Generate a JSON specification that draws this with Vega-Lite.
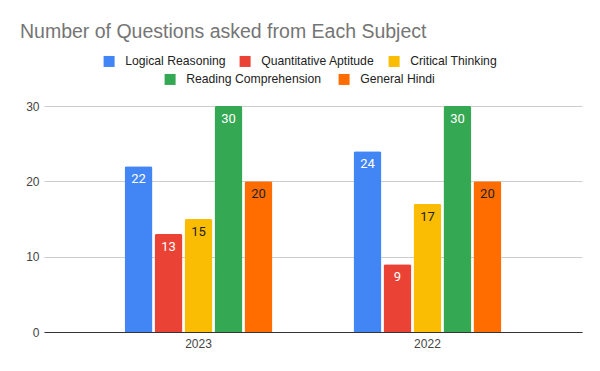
{
  "$schema": "https://vega.github.io/schema/vega-lite/v6.json",
  "autosize": {"type": "none"},
  "width": 538,
  "height": 226,
  "padding": {"left": 44, "top": 106, "right": 18, "bottom": 39},
  "background": "white",
  "title": {
    "text": "Number of Questions asked from Each Subject",
    "anchor": "start",
    "frame": "group",
    "font": "Liberation Sans",
    "fontSize": 19.5,
    "fontWeight": "normal",
    "color": "#757575",
    "dx": -24,
    "dy": -9
  },
  "data": {
    "values": [
      {"year": "2023", "subject": "Logical Reasoning", "value": 22},
      {"year": "2023", "subject": "Quantitative Aptitude", "value": 13},
      {"year": "2023", "subject": "Critical Thinking", "value": 15},
      {"year": "2023", "subject": "Reading Comprehension", "value": 30},
      {"year": "2023", "subject": "General Hindi", "value": 20},
      {"year": "2022", "subject": "Logical Reasoning", "value": 24},
      {"year": "2022", "subject": "Quantitative Aptitude", "value": 9},
      {"year": "2022", "subject": "Critical Thinking", "value": 17},
      {"year": "2022", "subject": "Reading Comprehension", "value": 30},
      {"year": "2022", "subject": "General Hindi", "value": 20}
    ]
  },
  "encoding": {
    "x": {
      "field": "year",
      "type": "nominal",
      "sort": ["2023", "2022"],
      "scale": {"paddingInner": 0.354, "paddingOuter": 0.352},
      "axis": {
        "title": null,
        "labelAngle": 0,
        "ticks": false,
        "domainColor": "#333333",
        "labelFont": "Liberation Sans",
        "labelFontSize": 12,
        "labelColor": "#444444",
        "labelPadding": 6,
        "grid": false
      }
    },
    "xOffset": {
      "field": "subject",
      "type": "nominal",
      "scale": {
        "domain": ["Logical Reasoning", "Quantitative Aptitude", "Critical Thinking", "Reading Comprehension", "General Hindi"],
        "paddingInner": 0.067,
        "paddingOuter": 0
      }
    },
    "y": {
      "field": "value",
      "type": "quantitative",
      "scale": {"domain": [0, 30]},
      "axis": {
        "title": null,
        "values": [0, 10, 20, 30],
        "ticks": false,
        "domain": false,
        "gridColor": "#cccccc",
        "labelFont": "Liberation Sans",
        "labelFontSize": 12,
        "labelColor": "#444444",
        "labelPadding": 5
      }
    }
  },
  "layer": [
    {
      "transform": [{"filter": {"field": "subject", "oneOf": ["Logical Reasoning", "Quantitative Aptitude", "Critical Thinking"]}}],
      "mark": {"type": "bar", "cornerRadiusEnd": 2},
      "encoding": {
        "color": {
          "field": "subject",
          "type": "nominal",
          "scale": {
            "domain": ["Logical Reasoning", "Quantitative Aptitude", "Critical Thinking"],
            "range": ["#4285F4", "#EA4335", "#FBBC04"]
          },
          "legend": {
            "title": null,
            "orient": "none",
            "direction": "horizontal",
            "legendX": 59,
            "legendY": -51,
            "symbolType": "square",
            "symbolSize": 121,
            "symbolStrokeWidth": 0,
            "labelFont": "Liberation Sans",
            "labelFontSize": 12.2,
            "labelColor": "#222222",
            "labelOffset": 10,
            "columnPadding": 13,
            "padding": 0
          }
        }
      }
    },
    {
      "transform": [{"filter": {"field": "subject", "oneOf": ["Reading Comprehension", "General Hindi"]}}],
      "mark": {"type": "bar", "cornerRadiusEnd": 2},
      "encoding": {
        "fill": {
          "field": "subject",
          "type": "nominal",
          "scale": {
            "domain": ["Reading Comprehension", "General Hindi"],
            "range": ["#34A853", "#FF6D01"]
          },
          "legend": {
            "title": null,
            "orient": "none",
            "direction": "horizontal",
            "legendX": 120,
            "legendY": -33,
            "symbolType": "square",
            "symbolSize": 121,
            "symbolStrokeWidth": 0,
            "labelFont": "Liberation Sans",
            "labelFontSize": 12.2,
            "labelColor": "#222222",
            "labelOffset": 10,
            "columnPadding": 16,
            "padding": 0
          }
        }
      }
    },
    {
      "mark": {"type": "text", "baseline": "middle", "dy": 13, "font": "Roboto", "fontSize": 13},
      "encoding": {
        "text": {"field": "value", "type": "quantitative"},
        "color": {
          "condition": {"test": "datum.subject === 'Critical Thinking' || datum.subject === 'General Hindi'", "value": "#222222"},
          "value": "white"
        }
      }
    }
  ],
  "config": {
    "view": {"stroke": null}
  }
}
